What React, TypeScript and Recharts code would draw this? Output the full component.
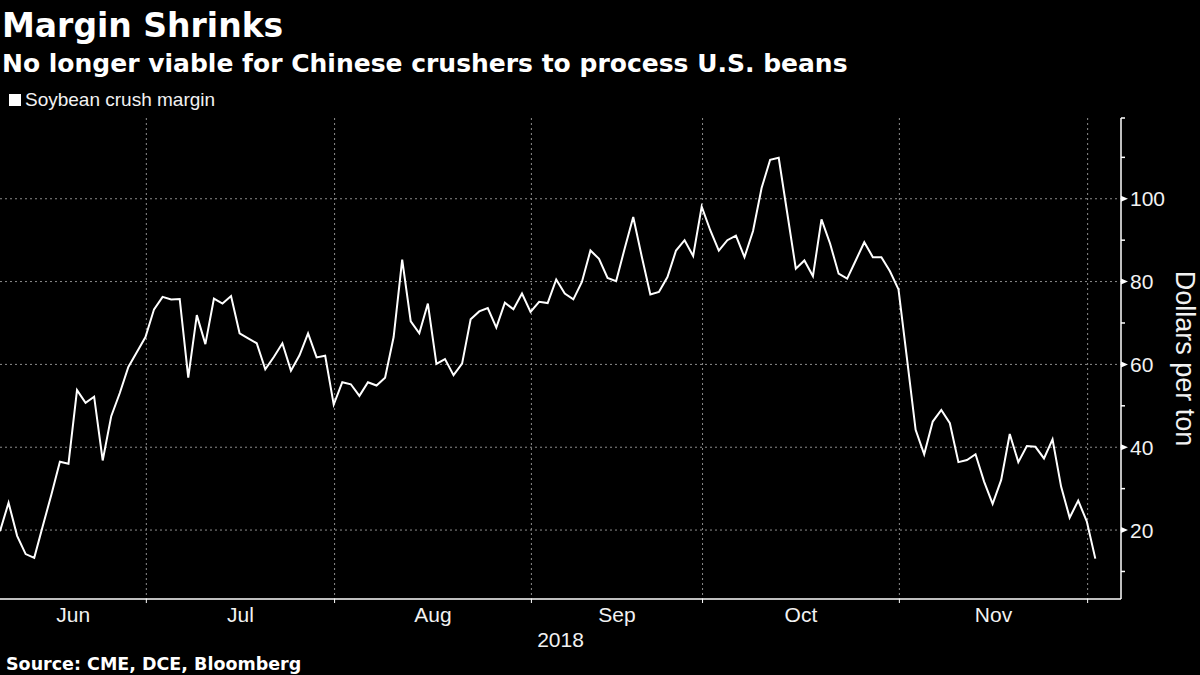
import { CartesianGrid, Label, Line, LineChart, XAxis, YAxis } from "recharts";

const SANS = "'Liberation Sans', Arial, sans-serif";
const BOLD = "'DejaVu Sans', Verdana, sans-serif";
const ink = "#f2f2f2";
const gridGray = "#8c8c8c";

const months = ["Jun", "Jul", "Aug", "Sep", "Oct", "Nov"];
// trading-day index at which Jul, Aug, Sep, Oct, Nov, Dec begin
const monthStarts = [17.1, 39.1, 62.1, 82.1, 105.1, 127.1];
const xDomain = [0, 131];
const yDomain = [3.35, 119.5];
const yMajor = [20, 40, 60, 80, 100];
const yMinor = [10, 30, 50, 70, 90, 110];

// soybean crush margin, $/ton, one value per trading day
const crushMargin = [
  19.7, 26.6, 18.6, 14.2, 13.3, 21, 28.5, 36.5, 36, 53.8,
  50.7, 52.2, 36.8, 47.5, 53.1, 59.4, 63, 66.6, 73.3, 76.3,
  75.7, 75.8, 56.8, 71.9, 64.9, 75.9, 74.7, 76.5, 67.5, 66.3,
  65.1, 58.8, 61.8, 65.1, 58.5, 62.2, 67.5, 61.7, 62.1, 50.3,
  55.7, 55.2, 52.4, 55.7, 54.9, 56.8, 66.6, 85.3, 70.4, 67.5,
  74.7, 60.1, 61.3, 57.4, 60.2, 70.9, 72.8, 73.6, 68.9, 74.9,
  73.3, 77.1, 72.7, 75.1, 74.8, 80.5, 77.1, 75.7, 79.9, 87.5,
  85.5, 80.9, 80.1, 88, 95.6, 86, 76.9, 77.5, 81.1, 87.5,
  90, 86.2, 98.1, 92.4, 87.5, 90, 91.1, 85.9, 92.2, 102.6,
  109.4, 109.9, 96.5, 83.1, 85.1, 81.3, 95, 89.2, 81.9, 80.7,
  85.1, 89.5, 85.9, 85.9, 82.5, 78.1, 61.2, 44.2, 38.3, 46.2,
  49, 45.8, 36.4, 36.9, 38.3, 31.7, 26.3, 32.1, 43.2, 36.4,
  40.3, 40.1, 37.3, 41.9, 30.5, 23, 27.1, 22.1, 13.1,
];

const data = crushMargin.map((v, i) => ({ i, v }));
const bounds = [xDomain[0], ...monthStarts];
const monthMids = months.map((_, k) => (bounds[k] + bounds[k + 1]) / 2);
const yTicks = [...yMajor, ...yMinor, yDomain[1]].sort((a, b) => a - b);

function YTick({ x, y, payload }: any) {
  const v = payload.value;
  if (yMajor.includes(v)) {
    return (
      <g>
        <polygon points={`${x},${y - 3} ${x + 7},${y} ${x},${y + 3}`} fill="#fff" />
        <text x={x + 9} y={y} dy="0.36em" fill={ink} fontSize={21} fontFamily={SANS}>
          {v}
        </text>
      </g>
    );
  }
  return <line x1={x} x2={x + 4} y1={y} y2={y} stroke="#fff" strokeWidth={1.5} />;
}

function UnitLabel({ viewBox }: any) {
  const cx = viewBox.x + viewBox.width - 15;
  const cy = viewBox.y + viewBox.height / 2;
  return (
    <text
      x={cx}
      y={cy}
      transform={`rotate(90 ${cx} ${cy})`}
      textAnchor="middle"
      dominantBaseline="central"
      fill={ink}
      fontSize={27}
      fontFamily={SANS}
    >
      Dollars per ton
    </text>
  );
}

export default function App() {
  return (
    <div
      style={{
        position: "absolute",
        left: 0,
        top: 0,
        width: 1200,
        height: 675,
        background: "#000",
        overflow: "hidden",
      }}
    >
      <div style={{ position: "absolute", left: 2, top: 8.6, fontFamily: BOLD, fontWeight: 700, fontSize: 33, lineHeight: "33px", color: "#fff", whiteSpace: "nowrap" }}>
        Margin Shrinks
      </div>
      <div style={{ position: "absolute", left: 2, top: 50.5, fontFamily: BOLD, fontWeight: 700, fontSize: 25, lineHeight: "25px", color: "#fff", whiteSpace: "nowrap" }}>
        No longer viable for Chinese crushers to process U.S. beans
      </div>
      <div style={{ position: "absolute", left: 9, top: 94, width: 12, height: 12, background: "#fff" }} />
      <div style={{ position: "absolute", left: 25, top: 90, fontFamily: SANS, fontSize: 19, lineHeight: "19px", color: ink, whiteSpace: "nowrap" }}>
        Soybean crush margin
      </div>

      <div style={{ position: "absolute", left: 0, top: 0 }}>
        <LineChart width={1200} height={675} data={data} margin={{ top: 118, right: 0, bottom: 26, left: 0 }}>
          <CartesianGrid
            stroke={gridGray}
            strokeDasharray="2 3"
            horizontalValues={yMajor}
            verticalValues={monthStarts}
          />
          <XAxis
            dataKey="i"
            type="number"
            domain={xDomain}
            ticks={monthStarts}
            interval={0}
            tick={() => <g />}
            tickSize={4}
            tickLine={{ stroke: "#fff" }}
            axisLine={{ stroke: "#fff", strokeWidth: 1.5 }}
            height={4}
          />
          <XAxis
            xAxisId="m"
            dataKey="i"
            type="number"
            domain={xDomain}
            ticks={monthMids}
            interval={0}
            tickFormatter={(_: any, k: number) => months[k]}
            axisLine={false}
            tickLine={false}
            tickSize={0}
            tickMargin={4}
            tick={{ fill: ink, fontSize: 21, fontFamily: SANS }}
            height={46}
          >
            <Label value="2018" position="insideBottom" offset={2.5} fill={ink} fontSize={21} fontFamily={SANS} />
          </XAxis>
          <YAxis
            orientation="right"
            type="number"
            domain={yDomain}
            ticks={yTicks}
            interval={0}
            tick={<YTick />}
            tickLine={false}
            tickSize={0}
            tickMargin={0}
            axisLine={{ stroke: "#fff", strokeWidth: 1.5 }}
            width={79}
          >
            <Label content={<UnitLabel />} />
          </YAxis>
          <Line
            type="linear"
            dataKey="v"
            stroke="#fff"
            strokeWidth={2}
            dot={false}
            isAnimationActive={false}
          />
        </LineChart>
      </div>

      <div style={{ position: "absolute", left: 6, top: 656.2, fontFamily: BOLD, fontWeight: 700, fontSize: 17.5, lineHeight: "17.5px", color: "#fff", whiteSpace: "nowrap" }}>
        Source: CME, DCE, Bloomberg
      </div>
    </div>
  );
}
